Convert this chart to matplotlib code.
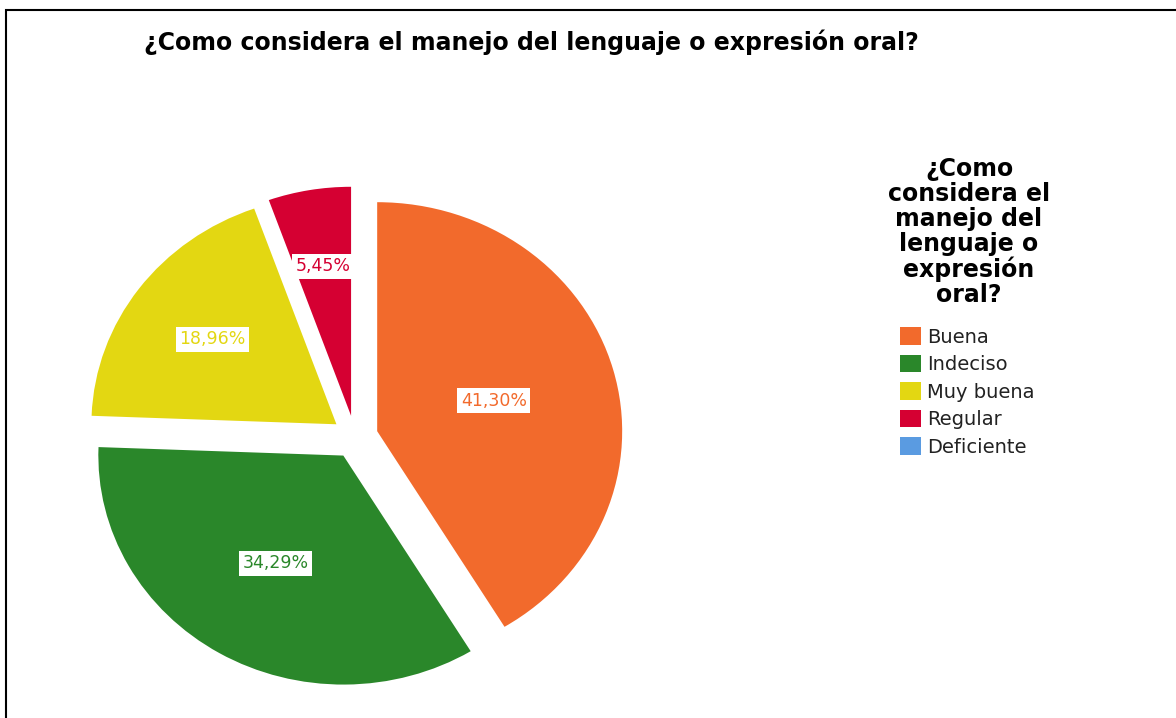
import matplotlib
matplotlib.use('Agg')
import matplotlib.pyplot as plt
from matplotlib.patches import Rectangle, Patch
import numpy as np

plt.rcParams['font.family'] = ['DejaVu Sans']

categorias = ['Buena', 'Indeciso', 'Muy buena', 'Regular', 'Deficiente']
porcentajes = [41.30, 34.29, 18.96, 5.45, 0.0]
colores = ['#F26A2C', '#2A872A', '#E3D712', '#D50032', '#5A9BE1']

titulo = '¿Como considera el manejo del lenguaje o expresión oral?'
titulo_leyenda = '¿Como\nconsidera el\nmanejo del\nlenguaje o\nexpresión\noral?'

W, H = 1176, 718
fig = plt.figure(figsize=(W / 100, H / 100), dpi=100)

# marco negro (solo se ven los bordes izquierdo y superior)
fig.patches.append(Rectangle((6 / W, -0.1), 1.2, 1 - 10 / H + 0.1,
                             transform=fig.transFigure, fill=False,
                             edgecolor='black', linewidth=1.5))

# el pastel sale un poco ovalado: radio horizontal 245 px, vertical 229 px
cx, cy, rx, ry = 355, 437, 245, 229
lim = 1.25
ax = fig.add_axes([(cx - lim * rx) / W, (H - cy - lim * ry) / H,
                   2 * lim * rx / W, 2 * lim * ry / H])


def fmt(p):
    return '' if p < 0.01 else f'{p:.2f}%'.replace('.', ',')


wedges, textos, pcts = ax.pie(porcentajes, colors=colores, startangle=90,
                              counterclock=False, explode=[0.094] * 5,
                              autopct=fmt, wedgeprops=dict(linewidth=0))

# etiquetas en el centroide de cada sector
for w, t, c in zip(wedges, pcts, colores):
    a = np.radians(w.theta2 - w.theta1) / 2
    if a <= 0:
        continue
    d = 2 * w.r * np.sin(a) / (3 * a)
    m = np.radians((w.theta1 + w.theta2) / 2)
    t.set_position((w.center[0] + d * np.cos(m), w.center[1] + d * np.sin(m)))
    t.set_color(c)
    t.set_fontsize(12.5)
    t.set_bbox(dict(boxstyle='square,pad=0.2', fc='white', ec='none'))
ax.set_aspect('auto')
ax.set_xlim(-lim, lim)
ax.set_ylim(-lim, lim)
ax.axis('off')

fig.text(531 / W, 1 - 42 / H, titulo, ha='center', va='center',
         fontsize=17, fontweight='bold')

fig.text(969 / W, 1 - 157 / H, titulo_leyenda, ha='center', va='top',
         fontsize=17, fontweight='bold', linespacing=1.05)

handles = [Patch(facecolor=c, edgecolor='none') for c in colores]
fig.legend(handles, categorias, loc='upper left',
           bbox_to_anchor=(900 / W, 1 - 327 / H), frameon=False,
           fontsize=14, borderpad=0, borderaxespad=0,
           handlelength=1.08, handleheight=1.03, handletextpad=0.3,
           labelspacing=0.41, labelcolor='#222222')

fig.savefig('out.png', dpi=100, facecolor='white')
